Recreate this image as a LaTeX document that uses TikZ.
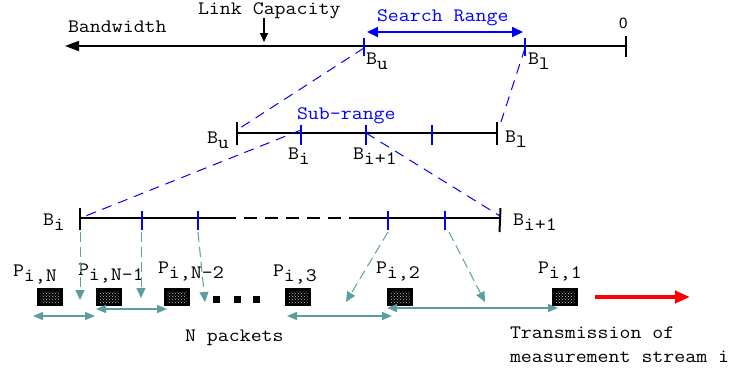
\documentclass[tikz,border=0pt]{standalone}
\usepackage{fontspec}
\setmainfont{Latin Modern Mono}[FakeStretch=1.12]
\newfontfamily\zerofont{Liberation Sans}
\usetikzlibrary{arrows.meta,patterns}
\definecolor{tealc}{RGB}{92,158,160}
\newcommand\lo[1]{\raisebox{-5pt}{#1}}
\begin{document}
\begin{tikzpicture}[x=1pt,y=-1pt,
  font=\fontsize{19}{23}\selectfont,
  lbl/.style={anchor=base west,inner sep=0pt,outer sep=0pt},
  axis/.style={line width=1.8pt,black},
  btick/.style={line width=2pt,black},
  utick/.style={line width=2pt,blue},
  bdash/.style={blue,line width=1pt,dash pattern=on 10pt off 7pt},
  tdash/.style={tealc,line width=1pt,dash pattern=on 10pt off 5pt,-{Triangle[length=10pt,width=9pt]}},
  dbl/.style={tealc,line width=1.5pt,{Triangle[length=10pt,width=8pt]}-{Triangle[length=10pt,width=8pt]}},
  packet/.style={draw=black,fill=black,line width=0.5pt,minimum width=25pt,minimum height=17pt,inner sep=0pt,
    path picture={\fill[pattern=crosshatch dots,pattern color=white!75!black]
      ([shift={(3pt,2.5pt)}]path picture bounding box.south west) rectangle
      ([shift={(-3pt,-2.5pt)}]path picture bounding box.north east);}},
  small/.style={fill=black,minimum width=7pt,minimum height=7pt,inner sep=0pt}
]
\useasboundingbox (0,0) rectangle (733,373);

% ---------- top axis ----------
\coordinate (tL) at (65,46);
\coordinate (t0) at (626,46);
\coordinate (tu) at (364,46);
\coordinate (tl) at (525,46);
\draw[axis,-{Triangle[length=14pt,width=10pt]}] (t0) -- (tL);
\draw[btick] (626,36) -- (626,57);
\draw[utick] (364,38) -- (364,56);
\draw[utick] (525,38) -- (525,56);

\node[lbl] (bw) at (68,32) {Bandwidth};
\node[lbl] (lc) at (198,14) {Link Capacity};
\coordinate (lc1) at (264,18);
\coordinate (lc2) at (264,42);
\draw[line width=1.5pt,-{Triangle[length=9pt,width=8pt]}] (lc1) -- (lc2);

\node[lbl,text=blue] (sr) at (377,21) {Search Range};
\coordinate (sr1) at (367,32);
\coordinate (sr2) at (523,32);
\draw[blue,line width=2pt,{Triangle[length=11pt,width=10pt]}-{Triangle[length=11pt,width=10pt]}] (sr1) -- (sr2);

\node[lbl,font=\zerofont\fontsize{15}{18}\selectfont] (zero) at (619,28) {0};
\node[lbl] (buT) at (366,64) {B\lo{u}};
\node[lbl] (blT) at (528,64) {B\lo{l}};

% ---------- second axis ----------
\coordinate (s0) at (237,133);
\coordinate (s1) at (301,133);
\coordinate (s2) at (366,133);
\coordinate (s3) at (432,133);
\coordinate (s4) at (497,133);
\draw[axis] (s0) -- (s4);
\draw[btick] (237,122) -- (237,145);
\draw[btick] (497,122) -- (497,145);
\foreach \x in {301,366,432} \draw[utick] (\x,125) -- (\x,145);

\node[lbl] (buS) at (207,143) {B\lo{u}};
\node[lbl] (blS) at (505,142) {B\lo{l}};
\node[lbl,text=blue] (subr) at (297,119) {Sub-range};
\node[lbl] (biS) at (288,159) {B\lo{i}};
\node[lbl] (bi1S) at (353,159) {B\lo{i+1}};

\coordinate (zu) at (240,128);
\coordinate (zl) at (499,128);
\draw[bdash] (tu) ++(0,2) -- (zu);
\draw[bdash] (tl) ++(0,2) -- (zl);

% ---------- third axis ----------
\coordinate (r0) at (80,218);
\coordinate (r1) at (142,218);
\coordinate (r2) at (198,218);
\coordinate (rA) at (236,218);
\coordinate (rB) at (244,218);
\coordinate (rC) at (352,218);
\coordinate (r3) at (388,218);
\coordinate (r4) at (445,218);
\coordinate (r5) at (500,218);
\draw[axis] (r0) -- (rA);
\draw[line width=1.8pt,dash pattern=on 13pt off 8pt] (rB) -- (rC);
\draw[axis] (rC) -- (r5);
\draw[btick] (80,208) -- (80,230);
\draw[btick] (500.5,208) -- (499.5,232);
\foreach \x in {142,198,388,445} \draw[utick] (\x,211) -- (\x,230);

\node[lbl] (biR) at (43,225) {B\lo{i}};
\node[lbl] (bi1R) at (513,225) {B\lo{i+1}};

\coordinate (zi) at (83,217);
\coordinate (zi1) at (500,216);
\draw[bdash] (301,130) -- (zi);
\draw[bdash] (366,133) -- (zi1);

% ---------- packets ----------
\node[packet] (p1) at (50,297) {};
\node[packet] (p2) at (109,297) {};
\node[packet] (p3) at (177,297) {};
\node[small] (q1) at (216,299) {};
\node[small] (q2) at (237,299) {};
\node[small] (q3) at (256,299) {};
\node[packet] (p4) at (298,297) {};
\node[packet] (p5) at (400,297) {};
\node[packet] (p6) at (565,297) {};

\node[lbl] (lp1) at (13,276) {P\lo{i,N}};
\node[lbl] (lp2) at (78,275) {P\lo{i,N-1}};
\node[lbl] (lp3) at (158,273) {P\lo{i,N-2}};
\node[lbl] (lp4) at (273,276) {P\lo{i,3}};
\node[lbl] (lp5) at (376,273) {P\lo{i,2}};
\node[lbl] (lp6) at (538,273) {P\lo{i,1}};

% teal dashed arrows
\coordinate (e1) at (80,300);
\coordinate (e2) at (141,298);
\coordinate (e3) at (205,302);
\coordinate (e4) at (346,302);
\coordinate (e5) at (485,302);
\draw[tdash] (80,232) -- (e1);
\draw[tdash] (141,232) -- (e2);
\draw[tdash] (198,232) -- (e3);
\draw[tdash] (388,232) -- (e4);
\draw[tdash] (449,232) -- (e5);

% teal double arrows
\coordinate (d1a) at (33,316);  \coordinate (d1b) at (95,316);
\coordinate (d2a) at (96,309);  \coordinate (d2b) at (167,309);
\coordinate (d3a) at (287,316); \coordinate (d3b) at (392,316);
\coordinate (d4a) at (387,308); \coordinate (d4b) at (558,308);
\draw[dbl] (d1a) -- (d1b);
\draw[dbl] (d2a) -- (d2b);
\draw[dbl] (d3a) -- (d3b);
\draw[dbl] (d4a) -- (d4b);

% red arrow
\coordinate (ra) at (595,297);
\coordinate (rb) at (690,297);
\draw[red,line width=4pt,-{Triangle[length=15pt,width=12pt]}] (ra) -- (rb);

\node[lbl] (np) at (185,341) {N packets};
\node[lbl] (tr1) at (510,338) {Transmission of};
\node[lbl] (tr2) at (510,362) {measurement stream i};
\end{tikzpicture}
\end{document}
